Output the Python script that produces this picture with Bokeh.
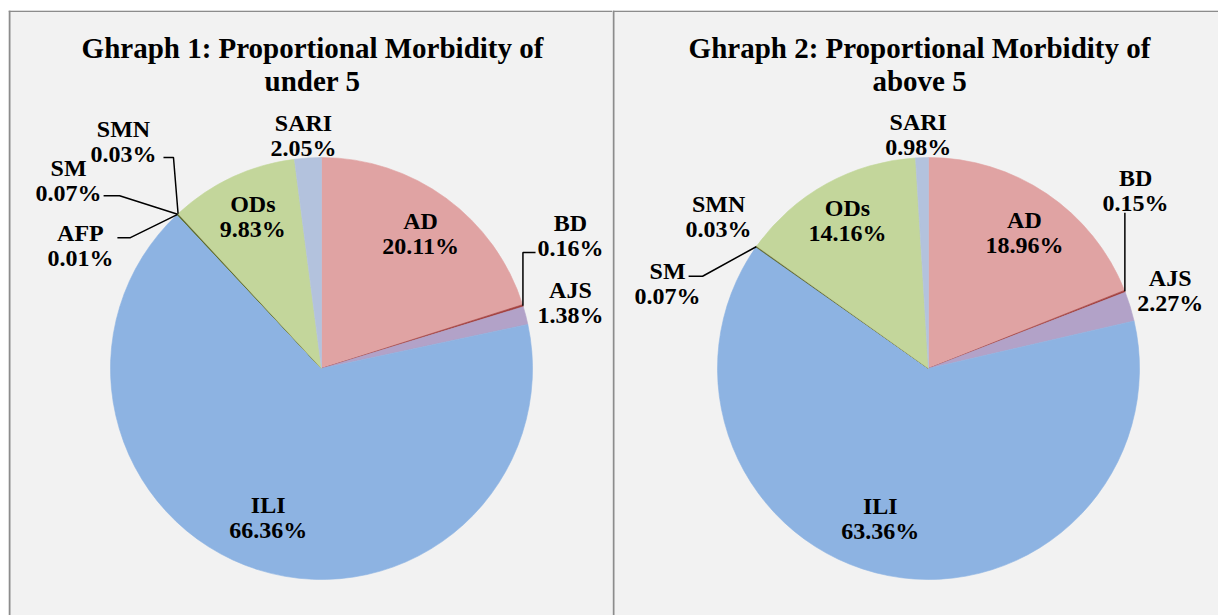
import numpy as np
from bokeh.plotting import figure
from bokeh.models import ColumnDataSource, Range1d, Span
from bokeh.layouts import row
from bokeh.core.properties import value
from bokeh.embed import file_html
from bokeh.resources import INLINE

# ---------------- data ----------------
titles1 = ["Ghraph 1: Proportional Morbidity of", "under 5"]
cats1 = ["AD", "BD", "AJS", "ILI", "AFP", "SM", "SMN", "ODs", "SARI"]
vals1 = [20.11, 0.16, 1.38, 66.36, 0.01, 0.07, 0.03, 9.83, 2.05]

titles2 = ["Ghraph 2: Proportional Morbidity of", "above 5"]
cats2 = ["AD", "BD", "AJS", "ILI", "SM", "SMN", "ODs", "SARI"]
vals2 = [18.96, 0.15, 2.27, 63.36, 0.07, 0.03, 14.16, 0.98]

# ---------------- style ----------------
COLORS = {"AD": "#e0a3a3", "BD": "#a3403e", "AJS": "#b2a2c8", "ILI": "#8db3e2",
          "AFP": "#76923c", "SM": "#4f6228", "SMN": "#948a54",
          "ODs": "#c3d69b", "SARI": "#b3c2dd"}
BG = "#f2f2f2"
BORDER = "#8c8c8c"
FONT = "Liberation Serif"
R = 211
LABEL_SIZE = "24px"
TITLE_SIZE = "29px"

# label placement: (radius factor, dx, dy) from slice mid-angle
LAB1 = {"AD": (0.795, 0, 0), "BD": (1.0, 47.6, 69.7), "AJS": (1.0, 44.7, 12.7),
        "ILI": (0.75, -6, 2.5), "AFP": (1.0, -96.8, -31.1), "SM": (1.0, -109, 34),
        "SMN": (1.0, -54.6, 72.7), "ODs": (0.79, 2, 1.5), "SARI": (1.105, -3, 0)}
LAB2 = {"AD": (0.79, 2.4, -2), "BD": (1.0, 10.7, 101), "AJS": (1.0, 40, 15.5),
        "ILI": (0.745, -18, 4), "SM": (1.0, -88.6, -37), "SMN": (1.0, -38, 30),
        "ODs": (0.8, 0.8, 0), "SARI": (1.11, -3, 0)}
# leader points: ("e", dx) / ("l", dx) for x relative to edge/label, same for y
LEAD1 = {"BD": [(("e", 0), ("l", -16.5)), (("l", -35), ("l", -16.5))],
         "SMN": [(("e", -4.6), ("l", -16.5)), (("l", 40), ("l", -16.5))],
         "SM": [(("l", 51), ("l", -15.5)), (("l", 35), ("l", -15.5))],
         "AFP": [(("l", 50), ("l", 8)), (("l", 37), ("l", 8))]}
LEAD2 = {"BD": [(("e", 0), ("l", -22.5))],
         "SM": [(("l", 35), ("l", 7.5)), (("l", 21), ("l", 7.5))]}


def make_pie(titles, cats, vals, lab, lead, xr, yr, width, height, left_pad, top_pad):
    v = np.array(vals, dtype=float)
    frac = v / v.sum()
    cum_end = np.cumsum(frac)
    cum_start = cum_end - frac
    start = np.pi / 2 - cum_end * 2 * np.pi
    end = np.pi / 2 - cum_start * 2 * np.pi
    mid = (start + end) / 2
    cols = [COLORS[c] for c in cats]
    src = ColumnDataSource(dict(start=start, end=end, color=cols, cat=cats))

    p = figure(width=width, height=height, x_range=Range1d(*xr), y_range=Range1d(*yr),
               output_backend="svg", toolbar_location=None,
               x_axis_type=None, y_axis_type=None, min_border=0,
               min_border_left=left_pad, min_border_top=top_pad,
               background_fill_color=BG, border_fill_color="#ffffff",
               outline_line_color=None)
    p.grid.visible = False

    p.wedge(x=0, y=0, radius=R, start_angle="start", end_angle="end",
            fill_color="color", line_color="color", line_width=0.6, source=src)

    # borders
    p.add_layout(Span(location=xr[0] + 1, dimension="height", line_color=BORDER, line_width=2))
    p.add_layout(Span(location=yr[1] - 0.75, dimension="width", line_color=BORDER, line_width=1.5))

    # title
    p.text(x=[-9, -9], y=[321, 288], text=titles, text_font=value(FONT),
           text_font_style="bold", text_font_size=TITLE_SIZE, text_color="#000000",
           text_align="center", text_baseline="middle")

    # labels
    lx, ly, names, pcts = [], [], [], []
    for i, c in enumerate(cats):
        k, dx, dy = lab[c]
        ex, ey = R * np.cos(mid[i]), R * np.sin(mid[i])
        x = k * ex + dx
        y = k * ey + dy
        lx.append(x)
        ly.append(y)
        names.append(c)
        pcts.append(f"{vals[i]:.2f}%")
        if c in lead:
            xs, ys = [ex], [ey]
            for (rx, ox), (ry, oy) in lead[c]:
                xs.append((ex if rx == "e" else x) + ox)
                ys.append((ey if ry == "e" else y) + oy)
            p.line(xs, ys, line_color="#000000", line_width=1.5)
    lx = np.array(lx)
    ly = np.array(ly)
    p.text(x=lx, y=ly + 12.5, text=names, text_font=value(FONT), text_font_style="bold",
           text_font_size=LABEL_SIZE, text_color="#000000", text_align="center",
           text_baseline="middle")
    p.text(x=lx, y=ly - 12.5, text=pcts, text_font=value(FONT), text_font_style="bold",
           text_font_size=LABEL_SIZE, text_color="#000000", text_align="center",
           text_baseline="middle")
    return p


# frames: left 8..612, right 612..1218, both from y=10 to 615 (pie centres at y=368)
p1 = make_pie(titles1, cats1, vals1, LAB1, LEAD1, (-313, 291), (-247, 358), 612, 615, 8, 10)
p2 = make_pie(titles2, cats2, vals2, LAB2, LEAD2, (-316, 290), (-247, 358), 606, 615, 0, 10)

layout = row(p1, p2, spacing=0)
open("out.html", "w").write(file_html(layout, INLINE))
